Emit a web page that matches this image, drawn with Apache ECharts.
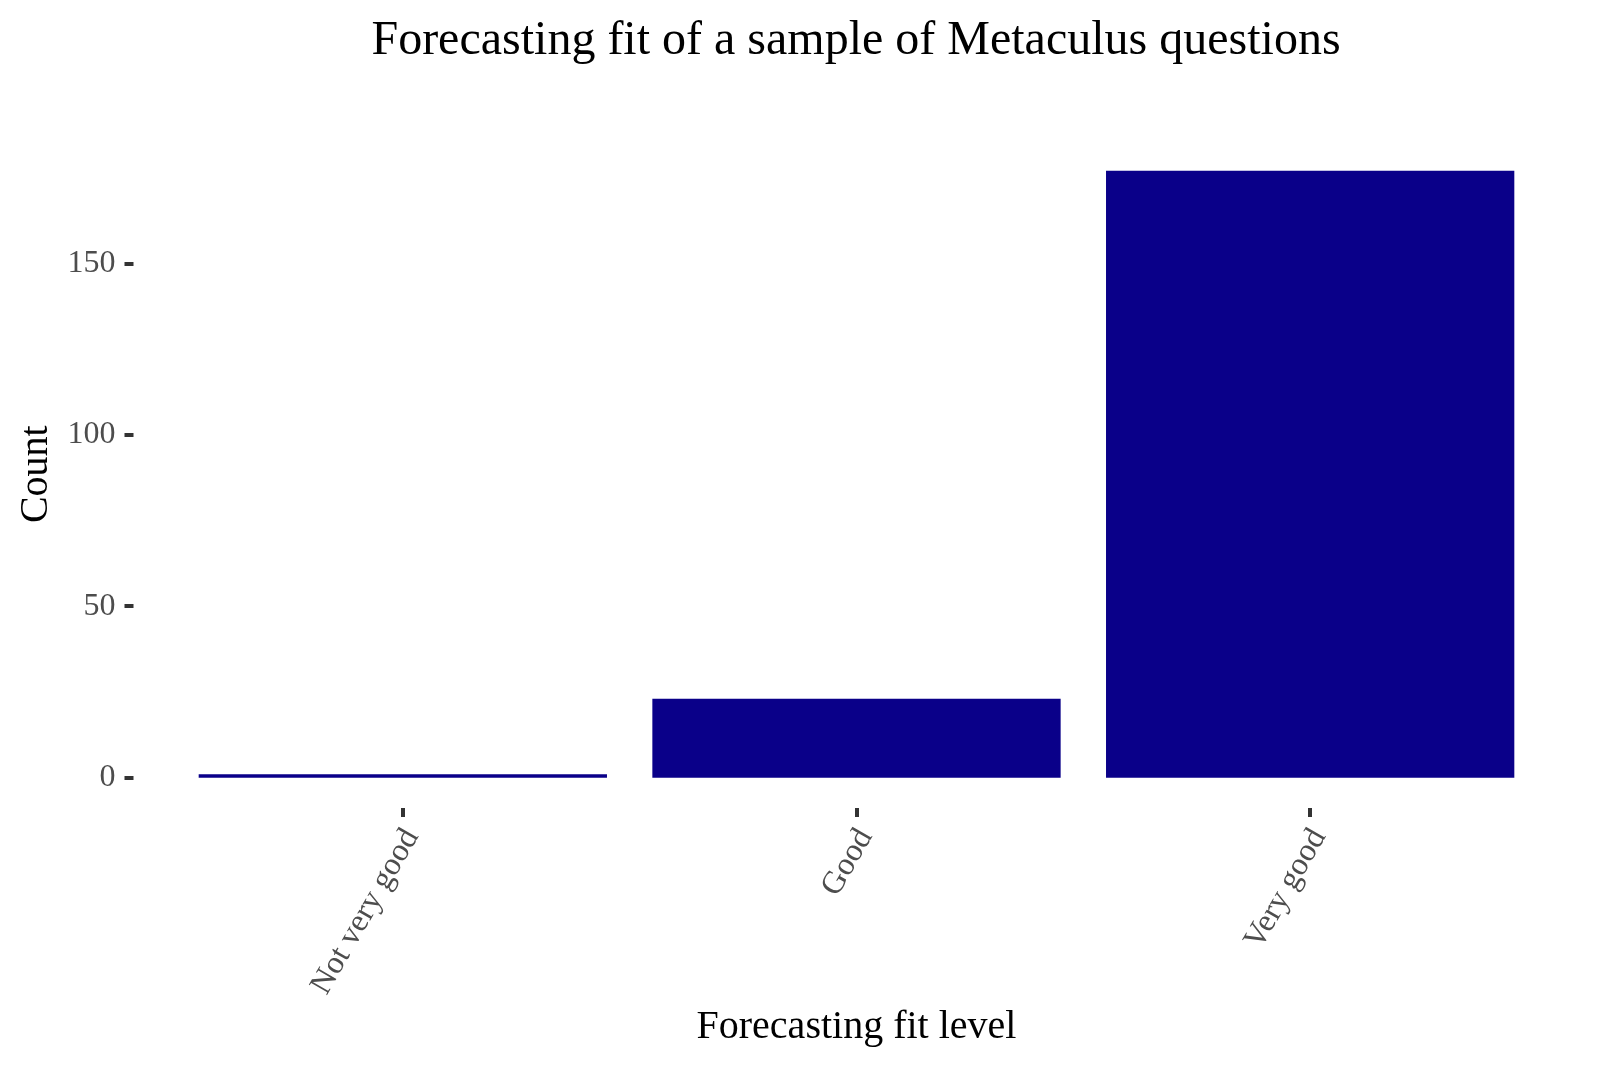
<!DOCTYPE html>
<html>
<head>
<meta charset="utf-8">
<script src="https://cdn.jsdelivr.net/npm/echarts@6/dist/echarts.min.js"></script>
<style>html,body{margin:0;padding:0;background:#fff}#c{width:1600px;height:1067px}</style>
</head>
<body>
<div id="c"></div>
<script>
const categories = ['Not very good', 'Good', 'Very good'];
const counts = [1, 23, 177];
const yTicks = [0, 50, 100, 150];
const titleText = 'Forecasting fit of a sample of Metaculus questions';
const xTitle = 'Forecasting fit level';
const yTitle = 'Count';

const FONT = 'Liberation Serif';
const maxV = Math.max(...counts);
const pad = maxV * 0.05;

const chart = echarts.init(document.getElementById('c'), null, {renderer: 'canvas'});
chart.setOption({
  animation: false,
  backgroundColor: '#ffffff',
  title: {
    text: titleText,
    left: 851,
    top: 12,
    textAlign: 'center',
    textStyle: {fontFamily: FONT, fontSize: 48, fontWeight: 'normal', color: '#000'}
  },
  grid: {left: 176, right: 63, top: 140.4, bottom: 259, containLabel: false},
  xAxis: {
    type: 'category',
    data: categories,
    boundaryGap: true,
    name: xTitle,
    nameLocation: 'middle',
    nameGap: 198,
    nameTextStyle: {fontFamily: FONT, fontSize: 40, color: '#000'},
    axisLine: {show: false, onZero: false},
    axisTick: {show: true, alignWithLabel: true, length: 9, lineStyle: {color: '#333', width: 4}},
    axisLabel: {rotate: 60, margin: 7, verticalAlign: 'top', lineHeight: 32, padding: [0, 10, 0, 0], fontFamily: FONT, fontSize: 32, color: '#4D4D4D'},
    splitLine: {show: false}
  },
  yAxis: {
    type: 'value',
    min: -pad,
    max: maxV + pad,
    offset: 42.5,
    name: yTitle,
    nameLocation: 'middle',
    nameGap: 77,
    nameRotate: 90,
    nameTextStyle: {fontFamily: FONT, fontSize: 40, color: '#000'},
    axisLine: {show: false},
    axisTick: {show: true, length: 9, customValues: yTicks, lineStyle: {color: '#333', width: 4}},
    axisLabel: {margin: 18, customValues: yTicks, fontFamily: FONT, fontSize: 32, color: '#4D4D4D'},
    splitLine: {show: false}
  },
  series: [{
    type: 'bar',
    data: counts,
    barCategoryGap: '10%',
    itemStyle: {color: '#0A0089'}
  }]
});
</script>
</body>
</html>
